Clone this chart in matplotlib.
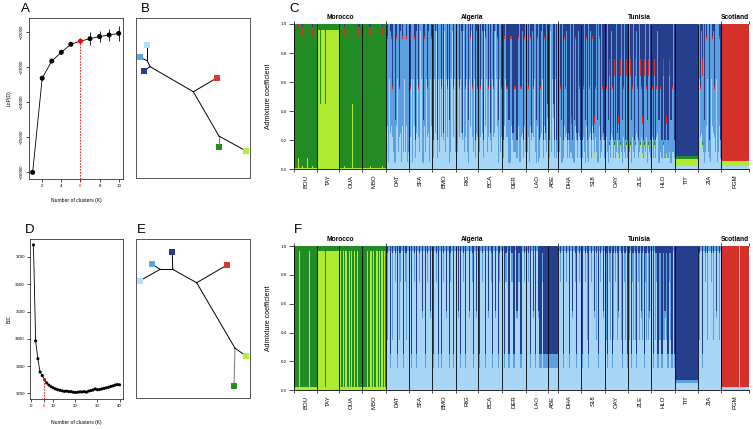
import numpy as np
import matplotlib.pyplot as plt

plt.rcParams['font.family'] = ['Liberation Sans', 'DejaVu Sans']

W, H = 753, 429

# panel A: STRUCTURE LnP(D) by K
k_a = list(range(1, 11))
lnp_mean = [-26020, -23330, -22840, -22590, -22360, -22270, -22200, -22140, -22095, -22050]
lnp_sd = [20, 40, 40, 40, 40, 80, 190, 170, 170, 210]
best_k = 6

# panel D: BIC by K
k_d = list(range(1, 41))
bic = [3744, 3392, 3327, 3278, 3265, 3250, 3238, 3230, 3224, 3220,
       3216, 3213, 3211, 3209, 3207, 3208, 3206, 3206, 3204, 3203,
       3204, 3205, 3205, 3206, 3204, 3208, 3210, 3212, 3216, 3213,
       3214, 3216, 3218, 3220, 3222, 3225, 3227, 3230, 3232, 3231]

# populations
pops = ['BOU', 'TAY', 'OUA', 'MBO', 'DAT', 'SFA', 'BMO', 'RIG', 'BCA', 'DER',
        'LAO', 'ABE', 'DHA', 'S18', 'OAY', 'ZLE', 'HLO', 'TIT', 'ZIA', 'PGM']
pop_size = [23, 22, 23, 23, 23, 23, 24, 22, 24, 23, 22, 10, 23, 24, 23, 23, 23, 23, 23, 28]
countries = ['Morocco', 'Algeria', 'Tunisia', 'Scotland']
country_npop = [4, 8, 7, 1]

# clusters, stacked bottom -> top
cluster_colors = ['#A7D6F6', '#AEEA30', '#238B23', '#5CA0E2', '#D6302A', '#253F8E']

# mixture profiles (pale, lgreen, green, medium, red, navy)
prof_c = {
    'G': [0, .01, .99, 0, 0, 0],
    'g': [0, .08, .90, 0, .02, 0],
    'h': [0, .02, .90, 0, .06, .02],
    'L': [0, .96, .04, 0, 0, 0],
    'l': [0, .45, .55, 0, 0, 0],
    'N': [.08, 0, 0, .12, 0, .80],
    'O': [.20, 0, 0, .05, 0, .75],
    'V': [.04, 0, 0, .30, 0, .66],
    'n': [.22, 0, 0, .33, .02, .43],
    'K': [.35, 0, 0, .10, 0, .55],
    'M': [.12, 0, 0, .88, 0, 0],
    'W': [.05, 0, 0, .95, 0, 0],
    'X': [.25, 0, 0, .70, 0, .05],
    'm': [.30, 0, 0, .60, .02, .08],
    'P': [.62, 0, 0, .38, 0, 0],
    'Q': [.95, 0, 0, .05, 0, 0],
    'r': [.15, .02, .02, .45, .12, .24],
    's': [.08, .03, 0, .20, .06, .63],
    'T': [.02, .05, .02, 0, 0, .91],
    'R': [.02, .04, 0, 0, .94, 0],
}
prof_f = {
    'G': [0, .02, .98, 0, 0, 0],
    'L': [0, .97, .03, 0, 0, 0],
    'P': [.97, 0, 0, .03, 0, 0],
    'p': [.75, 0, 0, .20, 0, .05],
    'N': [.15, 0, 0, .10, 0, .75],
    'n': [.50, 0, 0, .05, 0, .45],
    'M': [.35, 0, 0, .60, 0, .05],
    'T': [.05, 0, 0, .02, 0, .93],
    'R': [.02, 0, 0, 0, .98, 0],
    'Q': [1, 0, 0, 0, 0, 0],
}

# one letter per individual
ind_c = ['GGGGgGGGhGGGGgGGGGhGGGG', 'LLLlLLLLlLLLLLLLLLLLLL', 'GGGGGhGGGGGGGlGGGGGhGGG',
         'GGGGGGGhGGGGGGGGGGGhGGG', 'MmWPXmnMWVmPMnXWmMPMmWM', 'MnPWPmNXPnMQPWVmMPnXWPm',
         'PNPXQNPMPnPOQMPnPVMPQnPM', 'NMPnPXOQMnPMVPmQnMPNXn', 'PMnPXNQmPMnPOMPnXQPmVPMn',
         'MNmPnXVWmPOMnMNmPWnXNmM', 'NMnWmOXnPMVmWNnXPNmOMK', 'PNQMPKNPNM',
         'NMnVWNmnXNONMsNWVmONXnN', 'MNnMVmNWnXNmOsnMVWmNMnON', 'NnMVrNXnNrNMOsNrMVnMNrN',
         'nMrVnMNrXnNMrnsNrMnVrMN', 'MnNrNnXVMnNmrNMsNrMVnMN', 'TTTTTTTTTTTTTTTTTTTTTTT',
         'MPnXrMVMmPMNWPmXnMPWMmN', 'RRRRRRRRRRRRRRRRRRRRRRRRRRRR']
ind_f = ['GGGGGLGGGGGGGGGLGGGGGGG', 'LLLLLLLLGLLLLLLLLLLLLL', 'GLGGLGLLGGLGLGGLGLLGGLG',
         'GLGGLLGLLGLGGLLGLGLLGLG', 'PMPPNPMPPpPNPMpPPNPpMPP', 'PPNPPpPNPPpPPnPPNPpPPnP',
         'PNPPpPNPPNPpPPnPPNpPPNPP', 'PPnPNPPpPNPPPnPPpNPPnP', 'PNPPpPPNPPnPPpNPPnPPNpPP',
         'PPNpPPNPPpPNPPnPpPNPPpP', 'PPpPNPPnPNPPnNNNpNNNNN', 'NNNNNNNNNN',
         'PPpPPNPPpPPNPPnPPpNPPpP', 'PNPPpPMNPPpPPnPMPNPpPPnP', 'PMNPpMPNMPpPMnPPMNPpMPN',
         'PMPNpMPMNPpMPnMPNpMPMnP', 'MPNPMpNPMPNPMnPMNPpMNPN', 'TTTTTTTTTTTTTTTTTTTTTTT',
         'PMPPNPPpPMPPPpPMPPnPPMP', 'RRRRRRRRRRRRRRRRRRQRRRRRRRRR']

# trees (node positions in box units 0-100)
tree_b_nodes = {'pale': (9.9, 83.4), 'med': (3.5, 75.4), 'navy': (7.0, 67.1),
                'j1': (9.9, 73.3), 'j2': (12.3, 69.6), 'in': (50.3, 53.9),
                'red': (71.3, 62.7), 'n2': (72.8, 26.2), 'green': (72.8, 19.6),
                'lgreen': (96.5, 16.9)}
tree_e_nodes = {'navy': (31.8, 92.0), 'med': (14.3, 84.1), 'pale': (3.5, 73.8),
                'j1': (32.2, 80.9), 'j2': (21.1, 80.9), 'in': (53.2, 72.5),
                'red': (79.8, 83.6), 'n2': (86.8, 31.4), 'green': (86.0, 7.5),
                'lgreen': (96.5, 26.4)}
tree_b_edges = [('pale', 'j1'), ('med', 'j1'), ('j1', 'j2'), ('navy', 'j2'), ('j2', 'in'),
                ('in', 'red'), ('in', 'n2'), ('n2', 'green'), ('n2', 'lgreen')]
tree_e_edges = [('navy', 'j1'), ('med', 'j2'), ('pale', 'j2'), ('j2', 'j1'), ('j1', 'in'),
                ('in', 'red'), ('in', 'n2'), ('n2', 'green'), ('n2', 'lgreen')]
tip_colors = {'pale': '#B3DEF8', 'med': '#5AA8E8', 'navy': '#263E8C',
              'red': '#D93A34', 'green': '#2A8A2A', 'lgreen': '#B2F040'}

fig = plt.figure(figsize=(W / 100, H / 100), dpi=100)


def add_ax(x0, y0, x1, y1):
    return fig.add_axes([x0 / W, 1 - y1 / H, (x1 - x0) / W, (y1 - y0) / H])


def r_box(ax):
    for s in ax.spines.values():
        s.set_linewidth(0.6)
        s.set_color('#333333')
    ax.tick_params(direction='out', length=2.2, width=0.5, pad=1.5, labelsize=3.2)


# ---- A ----
ax = add_ax(29, 18, 123, 179)
r_box(ax)
ax.plot(k_a, lnp_mean, color='black', lw=0.6, zorder=2)
ax.errorbar(k_a, lnp_mean, yerr=lnp_sd, fmt='none', ecolor='black', elinewidth=0.6, capsize=0, zorder=2)
ax.scatter(k_a, lnp_mean, s=13, c=['red' if k == best_k else 'black' for k in k_a], zorder=3, linewidths=0)
ax.set_xlim(0.62, 10.45)
ax.set_ylim(-26210, -21610)
ax.vlines(best_k, -26210, lnp_mean[best_k - 1], colors='red', linestyles=(0, (2, 1.5)), lw=0.6)
ax.set_xticks([2, 4, 6, 8, 10])
ax.set_yticks([-26000, -25000, -24000, -23000, -22000])
ax.tick_params(axis='y', labelrotation=90)
for lab in ax.get_yticklabels():
    lab.set_va('center')
ax.get_xticklabels()[2].set_color('red')
ax.set_ylabel('LnP(D)', fontsize=3.6)
ax.yaxis.set_label_coords(-0.18, 0.5)
ax.set_xlabel('Number of clusters (K)', fontsize=3.6)
ax.xaxis.set_label_coords(0.5, -0.12)

# ---- D ----
ax = add_ax(30, 239, 123, 399)
r_box(ax)
ax.plot(k_d, bic, color='black', lw=0.6, zorder=2)
ax.scatter(k_d, bic, s=5, c=['red' if k == best_k else 'black' for k in k_d], zorder=3, linewidths=0)
ax.set_xlim(-0.56, 41.56)
ax.set_ylim(3179, 3766)
ax.vlines(best_k, 3179, bic[best_k - 1], colors='red', linestyles=(0, (2, 1.5)), lw=0.6)
ax.set_xticks([0, best_k, 10, 20, 30, 40])
ax.get_xticklabels()[1].set_color('red')
ax.set_yticks([3200, 3300, 3400, 3500, 3600, 3700])
ax.set_ylabel('BIC', fontsize=3.6)
ax.yaxis.set_label_coords(-0.2, 0.5)
ax.set_xlabel('Number of clusters (K)', fontsize=3.6)
ax.xaxis.set_label_coords(0.5, -0.13)


# ---- B / E trees ----
def draw_tree(ax, nodes, edges):
    for s in ax.spines.values():
        s.set_linewidth(0.7)
        s.set_color('#555555')
    ax.set_xticks([])
    ax.set_yticks([])
    ax.set_xlim(0, 100)
    ax.set_ylim(0, 100)
    for a, b in edges:
        col = '#777777' if 'green' in (a, b) and 'lgreen' not in (a, b) else 'black'
        ax.plot([nodes[a][0], nodes[b][0]], [nodes[a][1], nodes[b][1]], color=col, lw=0.7, zorder=2)
    for name, col in tip_colors.items():
        ax.plot(*nodes[name], marker='s', ms=4.2, color=col, mew=0, zorder=3, clip_on=False)


draw_tree(add_ax(136, 18, 250, 178), tree_b_nodes, tree_b_edges)
draw_tree(add_ax(136, 239, 250, 398), tree_e_nodes, tree_e_edges)


# ---- C / F structure ----
def structure_panel(ax, strings, profiles):
    edges = np.concatenate([[0], np.cumsum(pop_size)])
    xs, ws, fr = [], [], []
    for p, s in enumerate(strings):
        w = pop_size[p] / len(s)
        for i, ch in enumerate(s):
            xs.append(edges[p] + i * w)
            ws.append(w * 1.1)
            fr.append(profiles[ch])
    fr = np.array(fr, dtype=float)
    fr = fr / fr.sum(axis=1, keepdims=True)
    bottom = np.zeros(len(xs))
    for j, col in enumerate(cluster_colors):
        ax.bar(xs, fr[:, j], width=ws, bottom=bottom, align='edge', color=col, linewidth=0)
        bottom += fr[:, j]
    total = edges[-1]
    ax.vlines(edges[1:-1], 0, 1, colors='black', lw=0.6)
    ax.set_xlim(0, total)
    ax.set_ylim(0, 1)
    for s in ['top', 'right']:
        ax.spines[s].set_visible(False)
    for s in ['left', 'bottom']:
        ax.spines[s].set_linewidth(0.6)
    centers = (edges[:-1] + edges[1:]) / 2
    ax.set_xticks(centers, pops, rotation=90, fontsize=4.3)
    ax.set_xticks(edges, minor=True)
    ax.tick_params(axis='x', which='major', length=0, pad=4)
    ax.tick_params(axis='x', which='minor', length=2.5, width=0.5)
    ax.set_yticks([0, .2, .4, .6, .8, 1.0], ['0.0', '0.2', '0.4', '0.6', '0.8', '1.0'])
    ax.tick_params(axis='y', length=3.6, width=0.5, pad=1.4, labelsize=3.2)
    ax.set_ylabel('Admixture coefficient', fontsize=5)
    ax.yaxis.set_label_coords(-0.048, 0.5)
    cedges = edges[np.concatenate([[0], np.cumsum(country_npop)])]
    sec = ax.secondary_xaxis('top')
    sec.set_xticks(cedges, [''] * len(cedges))
    sec.tick_params(length=2.5, width=0.5)
    sec.spines['top'].set_visible(False)
    for c, a, b in zip(countries, cedges[:-1], cedges[1:]):
        ax.text((a + b) / 2, 1.045, c, transform=ax.get_xaxis_transform(),
                ha='center', va='center', fontsize=4.8, fontweight='bold')


structure_panel(add_ax(294, 24, 749, 169.3), ind_c, prof_c)
structure_panel(add_ax(294, 246.25, 749, 390), ind_f, prof_f)

# panel letters
for letter, x, y in [('A', 25, 9), ('B', 145, 8.5), ('C', 294.5, 8.5),
                     ('D', 29.5, 230), ('E', 141, 229.5), ('F', 298, 230)]:
    fig.text(x / W, 1 - y / H, letter, fontsize=9.5, ha='center', va='center')

fig.savefig('out.png', dpi=100)
